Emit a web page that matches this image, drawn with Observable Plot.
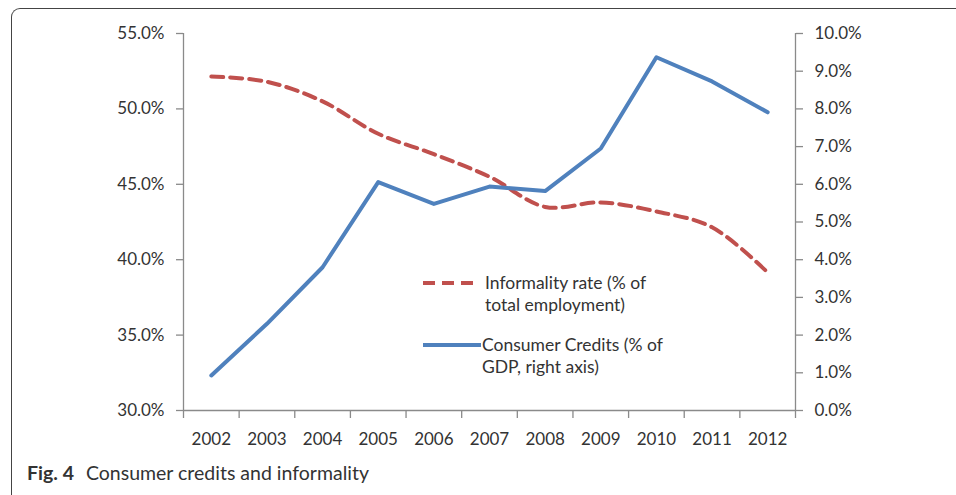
<!DOCTYPE html>
<html>
<head>
<meta charset="utf-8">
<script src="https://cdn.jsdelivr.net/npm/d3@7"></script>
<script src="https://cdn.jsdelivr.net/npm/@observablehq/plot@0.6"></script>
<style>
  html, body { margin: 0; padding: 0; background: #fff; }
  body { width: 956px; height: 495px; overflow: hidden; position: relative; font-family: Lato, "Open Sans", sans-serif; color: #333; }
  #frame { position: absolute; left: 11px; top: 8px; width: 1200px; height: 800px; border-top: 1.5px solid #444; border-left: 1.5px solid #444; border-top-left-radius: 9px; box-sizing: border-box; pointer-events: none; }
  #chart { position: absolute; left: 0; top: 0; }
  #legend { position: absolute; left: 0; top: 0; font-size: 17.5px; line-height: 22px; color: #333; }
  .item { position: absolute; }
  .item svg { position: absolute; }
  #caption { position: absolute; left: 27px; top: 461px; font-size: 19.5px; color: #333; white-space: nowrap; }
  #caption b { font-weight: 700; margin-right: 7px; }
</style>
</head>
<body>
<div id="chart"></div>
<div id="frame"></div>
<div id="legend"></div>
<div id="caption"><b>Fig. 4</b> Consumer credits and informality</div>
<script>
// ---- data ----
const years = [2002, 2003, 2004, 2005, 2006, 2007, 2008, 2009, 2010, 2011, 2012];
const informality = [52.15, 51.8, 50.5, 48.35, 47.0, 45.5, 43.5, 43.8, 43.2, 42.15, 39.15]; // % of total employment (left axis)
const credits = [0.93, 2.3, 3.8, 6.06, 5.48, 5.94, 5.82, 6.95, 9.37, 8.73, 7.91];      // % of GDP (right axis)
const leftTicks = [30, 35, 40, 45, 50, 55];
const rightTicks = [0, 1, 2, 3, 4, 5, 6, 7, 8, 9, 10];
const seriesNames = ["Informality rate (% of\ntotal employment)", "Consumer Credits (% of\nGDP, right axis)"];

// right axis [0,10] mapped onto left axis [30,55]
const L0 = 30, L1 = 55, R0 = 0, R1 = 10;
const toLeft = v => L0 + (v - R0) * (L1 - L0) / (R1 - R0);
const toRight = v => R0 + (v - L0) * (R1 - R0) / (L1 - L0);

const infData = years.map((y, i) => ({year: y, value: informality[i]}));
const credData = years.map((y, i) => ({year: y, value: toLeft(credits[i])}));
const boundaries = years.map(y => y - 0.5).concat([years[years.length - 1] + 0.5]);

const red = "#C0504D", blue = "#4F81BD", axisColor = "#8a8a8a";

const plot = Plot.plot({
  width: 956,
  height: 455,
  marginLeft: 183,
  marginRight: 161,
  marginTop: 33,
  marginBottom: 45,
  style: {fontFamily: "Lato, 'Open Sans', sans-serif", fontSize: "17px", color: "#333", background: "transparent"},
  x: {type: "linear", domain: [boundaries[0], boundaries[boundaries.length - 1]]},
  y: {domain: [L0, L1]},
  marks: [
    // axis lines
    Plot.ruleX([boundaries[0]], {y1: L0, y2: L1, stroke: axisColor, strokeWidth: 1.3}),
    Plot.ruleX([boundaries[boundaries.length - 1]], {y1: L0, y2: L1, stroke: axisColor, strokeWidth: 1.3}),
    Plot.ruleY([L0], {stroke: axisColor, strokeWidth: 1.3}),
    // left axis
    Plot.axisY({ticks: leftTicks, tickFormat: d => d.toFixed(1) + "%", tickSize: 7, tickPadding: 12, stroke: axisColor, fill: "#333", label: null, strokeWidth: 1.3}),
    // right axis
    Plot.axisY({anchor: "right", ticks: rightTicks.map(toLeft), tickFormat: d => toRight(d).toFixed(1) + "%", tickSize: 7, tickPadding: 12, stroke: axisColor, fill: "#333", label: null, strokeWidth: 1.3}),
    // x axis: boundary ticks and centred labels
    Plot.axisX({ticks: boundaries, tickFormat: () => "", tickSize: 8, stroke: axisColor, label: null, strokeWidth: 1.3}),
    Plot.axisX({ticks: years, tickFormat: d => String(d), tickSize: 0, tickPadding: 22, fill: "#333", label: null}),
    // series
    Plot.line(infData, {x: "year", y: "value", stroke: red, strokeWidth: 4, strokeDasharray: "12,7", curve: "catmull-rom"}),
    Plot.line(credData, {x: "year", y: "value", stroke: blue, strokeWidth: 4, strokeLinejoin: "round", strokeLinecap: "round"})
  ]
});
document.getElementById("chart").appendChild(plot);

// legend (HTML, positioned inside the plot area)
const legend = document.getElementById("legend");
const items = [
  {name: seriesNames[0], color: red, dash: "12,7", x: 423, y: 272},
  {name: seriesNames[1], color: blue, dash: null, x: 423, y: 334}
];
items.forEach(it => {
  const d = document.createElement("div");
  d.className = "item";
  d.style.left = it.x + "px";
  d.style.top = it.y + "px";
  const sw = 58;
  d.innerHTML = `<svg width="${sw}" height="10" style="left:0;top:6px"><line x1="0" x2="${it.dash ? 51 : sw}" y1="5" y2="5" stroke="${it.color}" stroke-width="4" ${it.dash ? `stroke-dasharray="${it.dash}"` : ""}/></svg>` +
    `<div style="position:absolute;left:${it.dash ? 62 : 59}px;top:0;white-space:pre;">${it.name}</div>`;
  legend.appendChild(d);
});
</script>
</body>
</html>
